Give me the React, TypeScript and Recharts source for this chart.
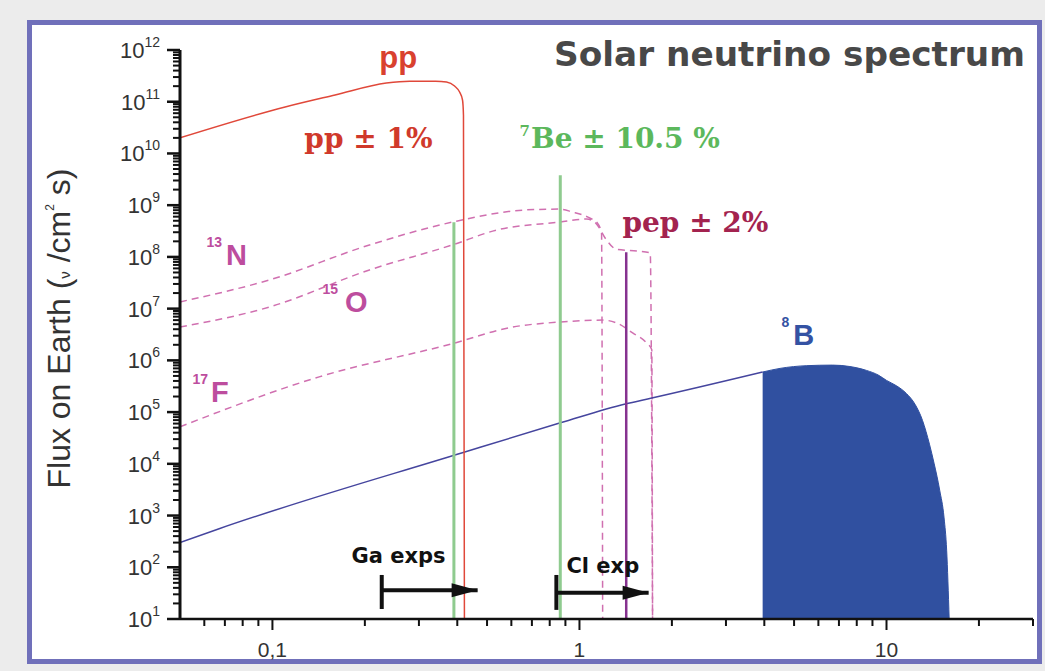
import React from 'react';
import { ComposedChart, Line, Area, XAxis, YAxis, ReferenceDot } from 'recharts';

// ---------- data (energy in MeV, flux on Earth) ----------
const FLOOR = 10;

const ppEnergy = [0.05, 0.11, 0.16, 0.235, 0.28, 0.34, 0.369, 0.392, 0.407, 0.416, 0.419, 0.422];
const ppFlux = [2.0e10, 7.9e10, 1.35e11, 2.3e11, 2.5e11, 2.5e11, 2.41e11, 2.01e11, 1.54e11, 1.08e11, 5.5e10, FLOOR];

const n13Energy = [0.05, 0.098, 0.207, 0.385, 0.671, 0.861, 0.948, 1.08, 1.145, 1.18, 1.19];
const n13Flux = [1.35e7, 3.6e7, 1.7e8, 4.7e8, 8.1e8, 8.4e8, 7.4e8, 5.65e8, 4.5e8, 2.9e8, FLOOR];

const o15Energy = [0.05, 0.098, 0.207, 0.385, 0.537, 0.861, 1.055, 1.13, 1.22, 1.32, 1.55, 1.7, 1.73];
const o15Flux = [4.4e6, 1.08e7, 5.6e7, 1.7e8, 3.3e8, 4.7e8, 5.4e8, 4.5e8, 2.2e8, 1.4e8, 1.3e8, 1.2e8, FLOOR];

const f17Energy = [0.05, 0.142, 0.385, 0.605, 0.861, 1.19, 1.32, 1.49, 1.65, 1.72, 1.73];
const f17Flux = [5.2e4, 4.8e5, 2.1e6, 4.4e6, 5.5e6, 6.0e6, 5.3e6, 3.4e6, 2.2e6, 1.6e6, FLOOR];

const b8LineEnergy = [0.05, 0.0667, 0.413, 0.867, 1.41, 1.72, 3.95];
const b8LineFlux = [300, 550, 1.62e4, 6.2e4, 1.44e5, 1.87e5, 5.95e5];

const b8FillEnergy = [3.95, 4.5, 5.5, 6.67, 7.6, 8.6, 9.4, 10, 10.8, 11.6, 12.4, 13.1, 13.8, 14.3, 14.9, 15.4, 15.7, 16.0];
const b8FillFlux = [5.95e5, 7.0e5, 7.9e5, 8.1e5, 7.6e5, 6.4e5, 5.2e5, 4.1e5, 3.2e5, 2.3e5, 1.4e5, 6.9e4, 2.4e4, 1.0e4, 3.1e3, 900, 214, FLOOR];

const be7Energy = [0.39, 0.866];
const be7Flux = [4.7e8, 3.8e9];
const pepEnergy = [1.42];
const pepFlux = [1.23e8];

// detector thresholds (arrows)
const gaRange = [0.227, 0.466];
const gaLevel = 36;
const gaBar = [15.6, 71];
const clRange = [0.841, 1.68];
const clLevel = 32;
const clBar = [15, 71];

// ticks
const xMajor = [0.1, 1, 10];
const xMajorLabels = ['0,1', '1', '10'];
const xMinor = [0.06, 0.07, 0.08, 0.09, 0.2, 0.3, 0.4, 0.5, 0.6, 0.7, 0.8, 0.9, 2, 3, 4, 5, 6, 7, 8, 9, 20, 30];
const yExponents = [1, 2, 3, 4, 5, 6, 7, 8, 9, 10, 11, 12];
const yMinorMultipliers = [2, 3, 4, 5, 6, 7, 8, 9];

// ---------- derived ----------
const pts = (xs: number[], ys: number[]) => xs.map((x, i) => ({ x, y: ys[i] }));
const vline = (x: number, top: number) => [{ x, y: top }, { x, y: FLOOR }];

const ppData = pts(ppEnergy, ppFlux);
const n13Data = pts(n13Energy, n13Flux);
const o15Data = pts(o15Energy, o15Flux);
const f17Data = pts(f17Energy, f17Flux);
const b8LineData = pts(b8LineEnergy, b8LineFlux);
const b8FillData = pts(b8FillEnergy, b8FillFlux);

const yMajor = yExponents.map((e) => Math.pow(10, e));
const yMinor = yExponents.slice(0, -1).flatMap((e) => yMinorMultipliers.map((m) => m * Math.pow(10, e)));
const yTicks = [...yMajor, ...yMinor].sort((a, b) => a - b);
const xTicks = [...xMajor, ...xMinor].sort((a, b) => a - b);

const near = (a: number, b: number) => Math.abs(a - b) < Math.abs(b) * 1e-9;

const SANS = '"Liberation Sans", Arial, sans-serif';
const SANSB = '"DejaVu Sans", sans-serif';
const SERIF = '"DejaVu Serif", serif';

const XTick = (props: any) => {
  const { x, y, payload } = props;
  const idx = xMajor.findIndex((m) => near(payload.value, m));
  const major = idx >= 0;
  return (
    <g>
      <line x1={x} x2={x} y1={y} y2={y + (major ? 11 : 7)} stroke="#111" strokeWidth={2} />
      {major && (
        <text x={x} y={y + 38} textAnchor="middle" fontFamily={SANS} fontSize={21} fill="#333">
          {xMajorLabels[idx]}
        </text>
      )}
    </g>
  );
};

const YTick = (props: any) => {
  const { x, y, payload } = props;
  const idx = yMajor.findIndex((m) => near(payload.value, m));
  const major = idx >= 0;
  return (
    <g>
      <line x1={x - (major ? 13 : 7)} x2={x} y1={y} y2={y} stroke="#111" strokeWidth={major ? 2.5 : 2} />
      {major && (
        <text x={x - 20} y={y + 8} textAnchor="end" fontFamily={SANS} fontSize={22} fill="#333">
          10
          <tspan dy={-11} fontSize={14}>{yExponents[idx]}</tspan>
        </text>
      )}
    </g>
  );
};

const YLabel = (props: any) => {
  const vb = props.viewBox || { x: 120, y: 50, width: 60, height: 569 };
  const cx = vb.x + vb.width - 110;
  const cy = vb.y + vb.height / 2 - 6;
  return (
    <text
      x={cx}
      y={cy}
      transform={`rotate(-90, ${cx}, ${cy})`}
      textAnchor="middle"
      fontFamily={SANS}
      fontSize={32}
      fill="#333"
    >
      Flux on Earth (<tspan fontSize={15}>ν</tspan> /cm<tspan fontSize={12} dy={-16}>2</tspan>
      <tspan dy={16}> s)</tspan>
    </text>
  );
};

type Note = { key: string; x: number; y: number; render: (cx: number, cy: number) => React.ReactElement };

const sup = (cx: number, cy: number, s: string, main: string, color: string, size: number, supSize: number, rise: number, family: string, gap = 2) => (
  <text x={cx} y={cy} fontFamily={family} fontWeight="bold" fontSize={size} fill={color}>
    <tspan fontSize={supSize} dy={-rise}>{s}</tspan>
    <tspan dy={rise} dx={gap}>{main}</tspan>
  </text>
);

const notes: Note[] = [
  { key: 'pp', x: 0.257, y: 4.49e11, render: (cx, cy) => (
    <text x={cx} y={cy} textAnchor="middle" fontFamily={SANS} fontWeight="bold" fontSize={31} fill="#d9412f">pp</text>) },
  { key: 'pp1', x: 0.127, y: 1.28e10, render: (cx, cy) => (
    <text x={cx} y={cy} fontFamily={SERIF} fontWeight="bold" fontSize={28} fill="#d0392b">pp ± 1%</text>) },
  { key: 'be', x: 0.638, y: 1.28e10, render: (cx, cy) => sup(cx, cy, '7', 'Be ± 10.5 %', '#5cb85c', 28, 15, 12, SERIF, 1) },
  { key: 'pep', x: 1.38, y: 3.03e8, render: (cx, cy) => (
    <text x={cx} y={cy} fontFamily={SERIF} fontWeight="bold" fontSize={28} fill="#a3234f">pep ± 2%</text>) },
  { key: 'n13', x: 0.061, y: 6.98e7, render: (cx, cy) => sup(cx, cy, '13', 'N', '#bd4d9e', 29, 14, 18, SANS, 4) },
  { key: 'o15', x: 0.1456, y: 8.6e6, render: (cx, cy) => sup(cx, cy, '15', 'O', '#bd4d9e', 29, 14, 18, SANS, 7) },
  { key: 'f17', x: 0.0549, y: 1.57e5, render: (cx, cy) => sup(cx, cy, '17', 'F', '#bd4d9e', 29, 14, 18, SANS, 3) },
  { key: 'b8', x: 4.55, y: 1.98e6, render: (cx, cy) => sup(cx, cy, '8', 'B', '#3452a3', 29, 14, 18, SANS, 4) },
  { key: 'ga', x: 0.181, y: 121, render: (cx, cy) => (
    <text x={cx} y={cy} fontFamily={SANSB} fontWeight="bold" fontSize={21} fill="#111">Ga exps</text>) },
  { key: 'cl', x: 0.907, y: 77.6, render: (cx, cy) => (
    <text x={cx} y={cy} fontFamily={SANSB} fontWeight="bold" fontSize={21} fill="#111">Cl exp</text>) },
];

const arrowHead = (last: number) => (props: any) => {
  const { cx, cy, index } = props;
  if (index !== last || cx == null) return <g key={`d${index}`} />;
  return <polygon key={`d${index}`} points={`${cx},${cy} ${cx - 26},${cy - 7} ${cx - 26},${cy + 7}`} fill="#111" />;
};

export default function App() {
  return (
    <div style={{ position: 'absolute', left: 0, top: 0, width: 1045, height: 671, background: '#ececec', overflow: 'hidden' }}>
      <div
        style={{
          position: 'absolute',
          left: 27,
          top: 20,
          width: 1015,
          height: 644,
          boxSizing: 'border-box',
          border: '5px solid #7070ba',
          background: '#ffffff',
        }}
      />
      <div style={{ position: 'absolute', left: 0, top: 0 }}>
        <ComposedChart width={1045} height={671} margin={{ top: 50, right: 12, bottom: 12, left: 120 }}>
          <XAxis
            type="number"
            dataKey="x"
            scale="log"
            domain={[0.05, 30]}
            allowDataOverflow
            ticks={xTicks}
            interval={0}
            tick={<XTick />}
            tickLine={false}
            tickSize={0}
            tickMargin={0}
            height={40}
            axisLine={{ stroke: '#111', strokeWidth: 2.5 }}
          />
          <YAxis
            type="number"
            dataKey="y"
            scale="log"
            domain={[10, 1e12]}
            allowDataOverflow
            ticks={yTicks}
            interval={0}
            tick={<YTick />}
            tickLine={false}
            tickSize={0}
            tickMargin={0}
            width={60}
            axisLine={{ stroke: '#111', strokeWidth: 3 }}
            label={{ content: (p: any) => <YLabel {...p} /> }}
          />
          <Area data={b8FillData} dataKey="y" type="monotone" stroke="#3050a0" strokeWidth={1} fill="#3050a0" fillOpacity={1} baseValue="dataMin" isAnimationActive={false} dot={false} activeDot={false} />
          <Line data={n13Data} dataKey="y" type="monotone" stroke="#d070b0" strokeWidth={1.5} strokeDasharray="7 5" dot={false} activeDot={false} isAnimationActive={false} />
          <Line data={o15Data} dataKey="y" type="monotone" stroke="#d070b0" strokeWidth={1.5} strokeDasharray="7 5" dot={false} activeDot={false} isAnimationActive={false} />
          <Line data={f17Data} dataKey="y" type="monotone" stroke="#d070b0" strokeWidth={1.5} strokeDasharray="7 5" dot={false} activeDot={false} isAnimationActive={false} />
          <Line data={b8LineData} dataKey="y" type="monotone" stroke="#45459e" strokeWidth={1.5} dot={false} activeDot={false} isAnimationActive={false} />
          {be7Energy.map((e, i) => (
            <Line key={`be${i}`} data={vline(e, be7Flux[i])} dataKey="y" type="linear" stroke="#8fcb8f" strokeWidth={3} dot={false} activeDot={false} isAnimationActive={false} />
          ))}
          <Line data={ppData} dataKey="y" type="monotone" stroke="#e0483a" strokeWidth={1.5} dot={false} activeDot={false} isAnimationActive={false} />
          {pepEnergy.map((e, i) => (
            <Line key={`pep${i}`} data={vline(e, pepFlux[i])} dataKey="y" type="linear" stroke="#86328f" strokeWidth={2.5} dot={false} activeDot={false} isAnimationActive={false} />
          ))}
          <Line data={[{ x: gaRange[0], y: gaBar[0] }, { x: gaRange[0], y: gaBar[1] }]} dataKey="y" type="linear" stroke="#111" strokeWidth={4} dot={false} activeDot={false} isAnimationActive={false} />
          <Line data={[{ x: gaRange[0], y: gaLevel }, { x: gaRange[1], y: gaLevel }]} dataKey="y" type="linear" stroke="#111" strokeWidth={4} dot={arrowHead(1)} activeDot={false} isAnimationActive={false} />
          <Line data={[{ x: clRange[0], y: clBar[0] }, { x: clRange[0], y: clBar[1] }]} dataKey="y" type="linear" stroke="#111" strokeWidth={4} dot={false} activeDot={false} isAnimationActive={false} />
          <Line data={[{ x: clRange[0], y: clLevel }, { x: clRange[1], y: clLevel }]} dataKey="y" type="linear" stroke="#111" strokeWidth={4} dot={arrowHead(1)} activeDot={false} isAnimationActive={false} />
          {notes.map((n) => (
            <ReferenceDot
              key={n.key}
              x={n.x}
              y={n.y}
              r={0}
              ifOverflow="visible"
              shape={(p: any) => n.render(p.cx, p.cy)}
            />
          ))}
        </ComposedChart>
      </div>
      <svg width={1045} height={671} style={{ position: 'absolute', left: 0, top: 0, pointerEvents: 'none' }}>
        <text x={1025} y={66} textAnchor="end" fontFamily={SANSB} fontWeight="bold" fontSize={33} fill="#484848" textLength={471} lengthAdjust="spacingAndGlyphs">
          Solar neutrino spectrum
        </text>
      </svg>
    </div>
  );
}
